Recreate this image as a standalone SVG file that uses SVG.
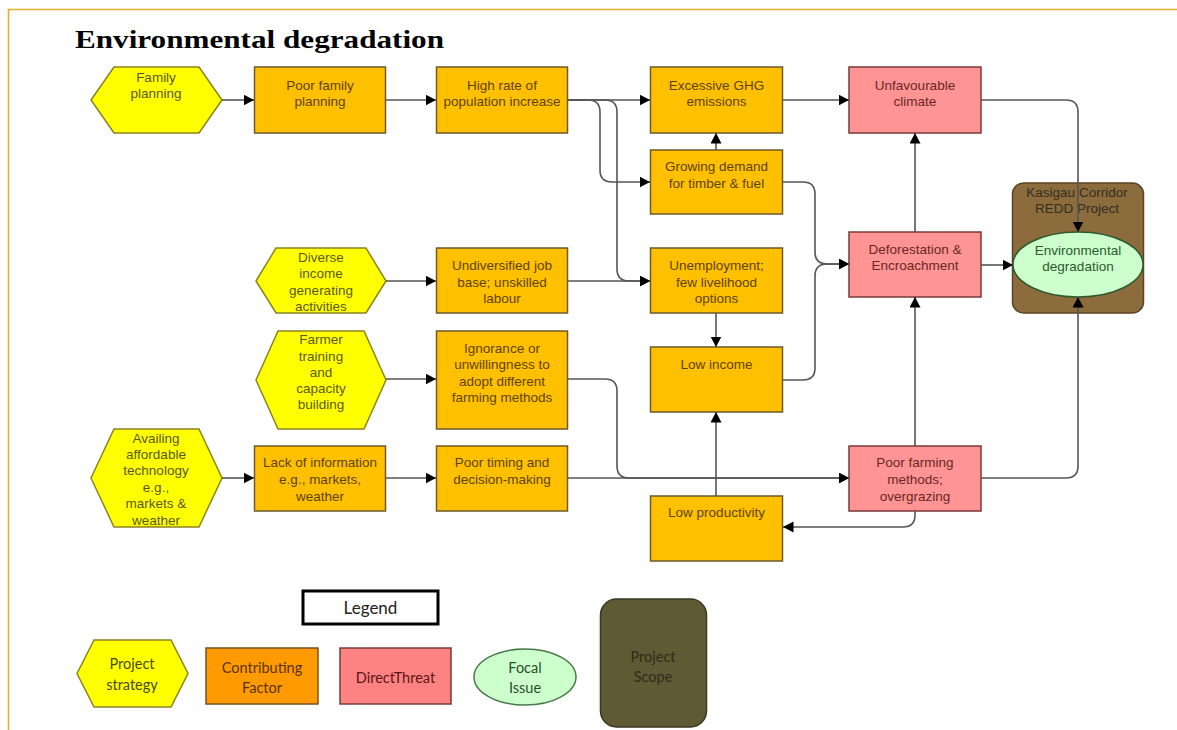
<svg xmlns="http://www.w3.org/2000/svg" width="1177" height="730" viewBox="0 0 1177 730">
<defs>
<marker id="ah" markerUnits="userSpaceOnUse" markerWidth="12" markerHeight="12" refX="10.5" refY="5.5" orient="auto">
<path d="M0,0 L10.5,5.5 L0,11 z" fill="#000"/>
</marker>
<style>
.frame{stroke:#E3B02A;stroke-width:1.6;fill:none}
.title{font-family:"Liberation Serif","Times New Roman",serif;font-weight:bold;font-size:25px;fill:#000}
.hex{fill:#FFFF00;stroke:#8A8420;stroke-width:1.5}
.cf{fill:#FFC000;stroke:#6E5A2A;stroke-width:1.5}
.dt{fill:#FF9494;stroke:#7A3A3A;stroke-width:1.5}
.fi{fill:#CCFFCC;stroke:#2E5A2E;stroke-width:1.5}
.ps{fill:#8C6B3C;stroke:#5A4426;stroke-width:1.5}
.t{font-family:"Liberation Sans",Arial,sans-serif;font-size:13.5px;text-anchor:middle}
.th{fill:#5A5A1E}
.tc{fill:#5E4300}
.td{fill:#6A2626}
.tf{fill:#2D5A2D}
.tp{fill:#333022}
.lg{font-family:Lato,"Open Sans",sans-serif;font-size:14.5px;text-anchor:middle}
.ca{fill:none;stroke:#555;stroke-width:1.6;marker-end:url(#ah)}
</style>
</defs>
<rect width="1177" height="730" fill="#fff"/>
<g id="frame">
<line class="frame" x1="8" y1="9.5" x2="1177" y2="9.5"/>
<line class="frame" x1="8.5" y1="9" x2="8.5" y2="730"/>
</g>
<text class="title" x="75" y="48" textLength="369" lengthAdjust="spacingAndGlyphs">Environmental degradation</text>

<g id="family-planning">
<polygon class="hex" points="91,100 114,67 199,67 222,100 199,133 114,133"/>
<text class="t th" x="156" y="82">Family</text>
<text class="t th" x="156" y="98">planning</text>
</g>
<g id="poor-family-planning">
<rect class="cf" x="254.5" y="67" width="131" height="66"/>
<text class="t tc" x="320" y="90">Poor family</text>
<text class="t tc" x="320" y="106">planning</text>
</g>
<g id="high-rate">
<rect class="cf" x="436.5" y="67" width="131" height="66"/>
<text class="t tc" x="502" y="90">High rate of</text>
<text class="t tc" x="502" y="106">population increase</text>
</g>
<g id="excessive-ghg">
<rect class="cf" x="650.5" y="67" width="132" height="66"/>
<text class="t tc" x="716.5" y="90">Excessive GHG</text>
<text class="t tc" x="716.5" y="106">emissions</text>
</g>
<g id="unfavourable-climate">
<rect class="dt" x="849" y="67" width="132" height="66"/>
<text class="t td" x="915" y="90">Unfavourable</text>
<text class="t td" x="915" y="106">climate</text>
</g>
<g id="growing-demand">
<rect class="cf" x="650.5" y="150" width="132" height="64"/>
<text class="t tc" x="716.5" y="171">Growing demand</text>
<text class="t tc" x="716.5" y="188">for timber &amp; fuel</text>
</g>
<g id="kasigau">
<rect class="ps" x="1012.5" y="183" width="131" height="130" rx="11"/>
<text class="t tp" x="1077" y="197">Kasigau Corridor</text>
<text class="t tp" x="1077" y="213">REDD Project</text>
</g>
<g id="environmental-degradation">
<ellipse class="fi" cx="1078" cy="264.5" rx="65" ry="32.5"/>
<text class="t tf" x="1078" y="255">Environmental</text>
<text class="t tf" x="1078" y="271">degradation</text>
</g>
<g id="diverse-income">
<polygon class="hex" points="256,281 276,248 366,248 386,281 366,313 276,313"/>
<text class="t th" x="321" y="262">Diverse</text>
<text class="t th" x="321" y="278">income</text>
<text class="t th" x="321" y="295">generating</text>
<text class="t th" x="321" y="311">activities</text>
</g>
<g id="undiversified">
<rect class="cf" x="436.5" y="248" width="131" height="65"/>
<text class="t tc" x="502" y="270">Undiversified job</text>
<text class="t tc" x="502" y="287">base; unskilled</text>
<text class="t tc" x="502" y="303">labour</text>
</g>
<g id="unemployment">
<rect class="cf" x="650.5" y="248" width="132" height="65"/>
<text class="t tc" x="716.5" y="270">Unemployment;</text>
<text class="t tc" x="716.5" y="287">few livelihood</text>
<text class="t tc" x="716.5" y="303">options</text>
</g>
<g id="deforestation">
<rect class="dt" x="849" y="232" width="132" height="65"/>
<text class="t td" x="915" y="254">Deforestation &amp;</text>
<text class="t td" x="915" y="270">Encroachment</text>
</g>
<g id="farmer-training">
<polygon class="hex" points="256,380 278,331 364,331 386,380 364,429 278,429"/>
<text class="t th" x="321" y="344">Farmer</text>
<text class="t th" x="321" y="361">training</text>
<text class="t th" x="321" y="377">and</text>
<text class="t th" x="321" y="393">capacity</text>
<text class="t th" x="321" y="409">building</text>
</g>
<g id="ignorance">
<rect class="cf" x="436.5" y="331" width="131" height="98"/>
<text class="t tc" x="502" y="353">Ignorance or</text>
<text class="t tc" x="502" y="369">unwillingness to</text>
<text class="t tc" x="502" y="386">adopt different</text>
<text class="t tc" x="502" y="402">farming methods</text>
</g>
<g id="low-income">
<rect class="cf" x="650.5" y="347" width="132" height="65"/>
<text class="t tc" x="716.5" y="369">Low income</text>
</g>
<g id="availing-technology">
<polygon class="hex" points="91,478 114,429 199,429 222,478 199,527 114,527"/>
<text class="t th" x="156" y="443">Availing</text>
<text class="t th" x="156" y="459">affordable</text>
<text class="t th" x="156" y="475">technology</text>
<text class="t th" x="156" y="492">e.g.,</text>
<text class="t th" x="156" y="508">markets &amp;</text>
<text class="t th" x="156" y="525">weather</text>
</g>
<g id="lack-of-information">
<rect class="cf" x="254.5" y="446" width="131" height="65"/>
<text class="t tc" x="320" y="467">Lack of information</text>
<text class="t tc" x="320" y="484">e.g., markets,</text>
<text class="t tc" x="320" y="501">weather</text>
</g>
<g id="poor-timing">
<rect class="cf" x="436.5" y="446" width="131" height="65"/>
<text class="t tc" x="502" y="467">Poor timing and</text>
<text class="t tc" x="502" y="484">decision-making</text>
</g>
<g id="poor-farming">
<rect class="dt" x="849" y="446" width="132" height="65"/>
<text class="t td" x="915" y="467">Poor farming</text>
<text class="t td" x="915" y="484">methods;</text>
<text class="t td" x="915" y="501">overgrazing</text>
</g>
<g id="low-productivity">
<rect class="cf" x="650.5" y="496" width="132" height="65"/>
<text class="t tc" x="716.5" y="517">Low productivity</text>
</g>

<g id="connectors">
<path class="ca" d="M222,100 H254"/>
<path class="ca" d="M386,100 H436"/>
<path class="ca" d="M567,100 H650"/>
<path class="ca" d="M567,100 H588 Q600,100 600,112 V170 Q600,182 612,182 H650"/>
<path class="ca" d="M567,100 H605 Q617,100 617,112 V269 Q617,281 629,281 H650"/>
<path class="ca" d="M716,150 V133"/>
<path class="ca" d="M783,100 H849"/>
<path class="ca" d="M981,100 H1066 Q1078,100 1078,112 V232"/>
<path class="ca" d="M783,182 H803 Q815,182 815,194 V252 Q815,264 827,264 H849"/>
<path class="ca" d="M783,380 H803 Q815,380 815,368 V276 Q815,264 827,264 H849"/>
<path class="ca" d="M915,232 V133"/>
<path class="ca" d="M981,265 H1013"/>
<path class="ca" d="M386,281 H436"/>
<path class="ca" d="M567,281 H650"/>
<path class="ca" d="M716,313 V347"/>
<path class="ca" d="M386,379 H436"/>
<path class="ca" d="M567,379 H605 Q617,379 617,391 V466 Q617,478 629,478 H849"/>
<path class="ca" d="M222,478 H254"/>
<path class="ca" d="M386,478 H436"/>
<path class="ca" d="M567,478 H849"/>
<path class="ca" d="M716,496 V412"/>
<path class="ca" d="M915,446 V297"/>
<path class="ca" d="M981,478 H1066 Q1078,478 1078,466 V297"/>
<path class="ca" d="M915,511 V515 Q915,527 903,527 H783"/>
</g>

<g id="legend">
<rect x="303" y="591" width="135" height="33" fill="#fff" stroke="#000" stroke-width="3"/>
<text class="lg" x="370.5" y="614" style="font-size:17px" fill="#222">Legend</text>
</g>
<g id="legend-strategy">
<polygon points="77,673.5 94,640 171,640 188,673.5 171,707 94,707" fill="#FFFF00" stroke="#8A8420" stroke-width="1.5"/>
<text class="lg" x="132" y="669" fill="#4A4A10">Project</text>
<text class="lg" x="132" y="690" fill="#4A4A10">strategy</text>
</g>
<g id="legend-factor">
<rect x="206" y="648" width="112" height="56" fill="#FF9A00" stroke="#7A5020" stroke-width="1.5"/>
<text class="lg" x="262" y="673" fill="#5A3300">Contributing</text>
<text class="lg" x="262" y="693" fill="#5A3300">Factor</text>
</g>
<g id="legend-threat">
<rect x="340" y="648" width="111" height="56" fill="#FF8282" stroke="#7A3A3A" stroke-width="1.5"/>
<text class="lg" x="395.5" y="683" fill="#5A1515">DirectThreat</text>
</g>
<g id="legend-focal">
<ellipse cx="525" cy="677" rx="51" ry="28" fill="#CCFFCC" stroke="#4A7A4A" stroke-width="1.5"/>
<text class="lg" x="525" y="673" fill="#2D4D2D">Focal</text>
<text class="lg" x="525" y="693" fill="#2D4D2D">Issue</text>
</g>
<g id="legend-scope">
<rect x="600.5" y="599" width="106" height="128" rx="16" fill="#5E5A33" stroke="#3A3820" stroke-width="1.5"/>
<text class="lg" x="653" y="662" fill="#2E2C1C">Project</text>
<text class="lg" x="653" y="682" fill="#2E2C1C">Scope</text>
</g>
</svg>
